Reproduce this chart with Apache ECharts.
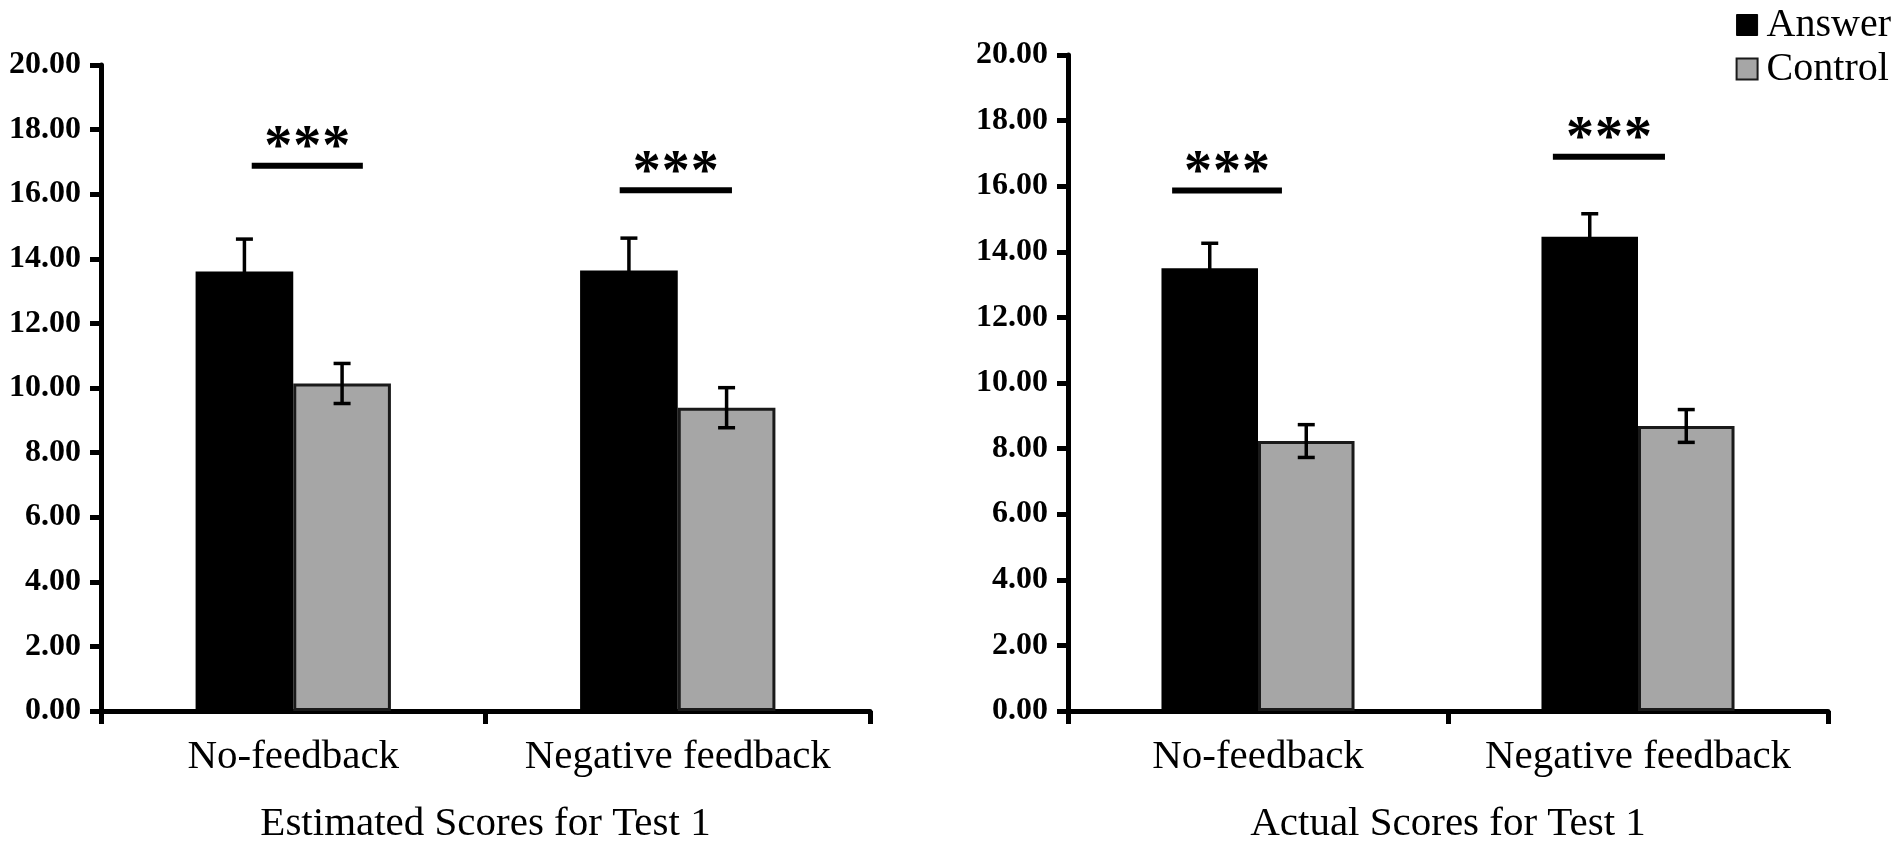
<!DOCTYPE html>
<html>
<head>
<meta charset="utf-8">
<script src="https://cdn.jsdelivr.net/npm/echarts@6/dist/echarts.min.js"></script>
<style>
html,body{margin:0;padding:0;background:#fff;}
#chart{width:1904px;height:841px;}
</style>
</head>
<body>
<div id="chart"></div>
<script>
// ---- data ----
var categories = ['No-feedback', 'Negative feedback'];
var seriesNames = ['Answer', 'Control'];
var panelTitles = ['Estimated Scores for Test 1', 'Actual Scores for Test 1'];
var yTicks = [0, 2, 4, 6, 8, 10, 12, 14, 16, 18, 20];

var estAnswer = [13.61, 13.64];
var estAnswerErr = [1.00, 1.00];
var estControl = [10.14, 9.39];
var estControlErr = [0.62, 0.62];

var actAnswer = [13.50, 14.46];
var actAnswerErr = [0.76, 0.70];
var actControl = [8.23, 8.69];
var actControlErr = [0.50, 0.50];

// significance bars: [category index, y value, start fraction, end fraction] per panel
var estSig = [[0, 16.88, -0.108, 0.181], [1, 16.12, -0.151, 0.141]];
var actSig = [[0, 15.87, -0.226, 0.063], [1, 16.90, -0.224, 0.071]];
var sigLabel = '***';

// ---- chart ----
var FONT = "'Liberation Serif','Times New Roman',serif";
var BARW = 0.254;
var chart = echarts.init(document.getElementById('chart'));

function errData(vals, errs, side) {
  return vals.map(function (v, i) { return [i, v, errs[i], side]; });
}

function renderErr(params, api) {
  var c = api.coord([api.value(0), api.value(1)]);
  var band = api.size([1, 0])[0];
  var x = c[0] + api.value(3) * band * BARW / 2;
  var e = api.value(2);
  var top = api.coord([api.value(0), api.value(1) + e])[1];
  var bot = api.coord([api.value(0), api.value(1) - e])[1];
  var half = 8.5;
  var st = { stroke: '#000', lineWidth: 3.5 };
  return {
    type: 'group',
    children: [
      { type: 'line', shape: { x1: x, y1: top, x2: x, y2: bot }, style: st },
      { type: 'line', shape: { x1: x - half, y1: top, x2: x + half, y2: top }, style: st },
      { type: 'line', shape: { x1: x - half, y1: bot, x2: x + half, y2: bot }, style: st }
    ]
  };
}

function renderSig(params, api) {
  var c = api.coord([api.value(0), api.value(1)]);
  var band = api.size([1, 0])[0];
  var x0 = c[0] + api.value(2) * band;
  var x1 = c[0] + api.value(3) * band;
  var y = c[1];
  var mid = (x0 + x1) / 2;
  var children = [
    { type: 'line', shape: { x1: x0, y1: y, x2: x1, y2: y }, style: { stroke: '#000', lineWidth: 6 } }
  ];
  var chars = sigLabel.split('');
  for (var k = 0; k < chars.length; k++) {
    children.push({
      type: 'text',
      x: mid + (k - (chars.length - 1) / 2) * 29,
      y: y - 16,
      style: {
        text: chars[k], font: 'bold 56px ' + FONT, fill: '#000',
        textAlign: 'center', textVerticalAlign: 'middle'
      }
    });
  }
  return { type: 'group', children: children };
}

function yAxis(gi) {
  return {
    type: 'value', gridIndex: gi, min: 0, max: 20, interval: 2,
    axisLine: { show: true, lineStyle: { color: '#000', width: 5 } },
    axisTick: { show: true, length: 11, lineStyle: { color: '#000', width: 5 } },
    splitLine: { show: false },
    axisLabel: {
      margin: 20, color: '#000', fontFamily: FONT, fontWeight: 'bold', fontSize: 32,
      formatter: function (v) { return v.toFixed(2); }
    }
  };
}

function xAxis(gi) {
  return {
    type: 'category', gridIndex: gi, data: categories,
    name: panelTitles[gi], nameLocation: 'middle', nameGap: 93,
    nameTextStyle: { color: '#000', fontFamily: FONT, fontSize: 41 },
    axisLine: { show: true, lineStyle: { color: '#000', width: 5 } },
    axisTick: { show: true, length: 13, alignWithLabel: false, lineStyle: { color: '#000', width: 5 } },
    axisLabel: { interval: 0, hideOverlap: false, margin: 26, color: '#000', fontFamily: FONT, fontSize: 41 }
  };
}

function barSeries(name, gi, vals, color, border) {
  return {
    name: name, type: 'bar', xAxisIndex: gi, yAxisIndex: gi, data: vals,
    barWidth: (BARW * 100) + '%', barGap: '0%',
    itemStyle: { color: color, borderColor: border, borderWidth: 3 },
    emphasis: { disabled: true }, z: 2
  };
}

function errSeries(gi, vals, errs, side) {
  return {
    type: 'custom', xAxisIndex: gi, yAxisIndex: gi, renderItem: renderErr,
    data: errData(vals, errs, side), z: 5, silent: true
  };
}

function sigSeries(gi, data) {
  return {
    type: 'custom', xAxisIndex: gi, yAxisIndex: gi, renderItem: renderSig,
    data: data, z: 5, silent: true
  };
}

var option = {
  backgroundColor: '#fff',
  animation: false,
  legend: {
    orient: 'vertical', right: 8, top: 0,
    itemWidth: 21, itemHeight: 21, itemGap: 4,
    textStyle: { color: '#000', fontFamily: FONT, fontSize: 40, padding: [0, 0, 0, 4] },
    data: [
      { name: 'Answer', icon: 'rect', itemStyle: { color: '#000', borderColor: '#000', borderWidth: 1 } },
      { name: 'Control', icon: 'rect', itemStyle: { color: '#a6a6a6', borderColor: '#1a1a1a', borderWidth: 2 } }
    ]
  },
  grid: [
    { left: 101, right: 1034, top: 65, bottom: 130, containLabel: false, outerBoundsMode: 'none' },
    { left: 1068, right: 76, top: 55, bottom: 130, containLabel: false, outerBoundsMode: 'none' }
  ],
  xAxis: [xAxis(0), xAxis(1)],
  yAxis: [yAxis(0), yAxis(1)],
  series: [
    barSeries(seriesNames[0], 0, estAnswer, '#000', '#000'),
    barSeries(seriesNames[1], 0, estControl, '#a6a6a6', '#1a1a1a'),
    barSeries(seriesNames[0], 1, actAnswer, '#000', '#000'),
    barSeries(seriesNames[1], 1, actControl, '#a6a6a6', '#1a1a1a'),
    errSeries(0, estAnswer, estAnswerErr, -1),
    errSeries(0, estControl, estControlErr, 1),
    errSeries(1, actAnswer, actAnswerErr, -1),
    errSeries(1, actControl, actControlErr, 1),
    sigSeries(0, estSig),
    sigSeries(1, actSig)
  ]
};
chart.setOption(option);
</script>
</body>
</html>
